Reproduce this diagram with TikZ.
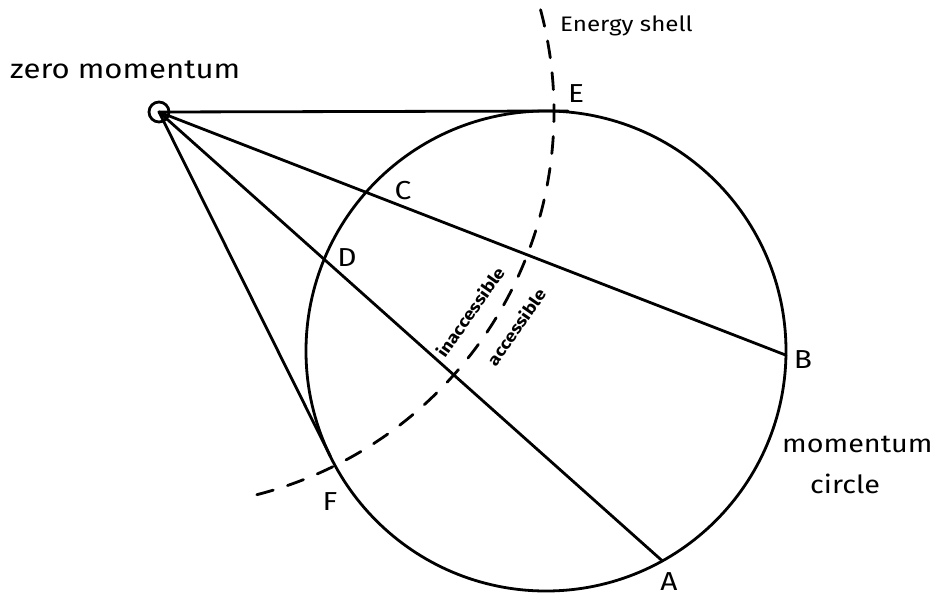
\documentclass[tikz,border=0pt]{standalone}
\usepackage{fontspec}
\setmainfont{Fira Sans}[FakeStretch=1.15]
\usetikzlibrary{calc}
\tikzset{
  stroke/.style={line width=2.8pt, line cap=round, line join=round},
  shell/.style={stroke, dash pattern=on 17pt off 15pt},
  ptlabel/.style={font=\fontsize{26}{30}\selectfont, inner sep=0pt},
  bigtext/.style={font=\fontsize{27}{30}\selectfont, inner sep=0pt, anchor=base west},
  midtext/.style={font=\fontsize{25}{30}\selectfont, inner sep=0pt, anchor=base west},
  smalltext/.style={font=\fontsize{21}{25}\selectfont, inner sep=0pt, anchor=base west},
  sidetext/.style={font=\fontsize{16.5}{20}\selectfont\bfseries, inner sep=0pt, rotate=55},
}
\begin{document}
\begin{tikzpicture}[x=1pt,y=1pt]
\fill[white] (0,0) rectangle (943,-597);
\useasboundingbox (0,0) rectangle (943,-597);
% momentum circle
\node[draw, stroke, circle, minimum size=480pt, inner sep=0pt, outer sep=0pt] (mc) at (546,-351) {};
% zero momentum point
\coordinate (P) at (159,-112);
\node[draw, stroke, circle, minimum size=20pt, inner sep=0pt] (zm) at (P) {};
\coordinate (Eend) at (568,-111);
\coordinate (B) at (mc.-1.4);
\coordinate (A) at (mc.-61.8);
\coordinate (F) at (mc.206.3);
\draw[stroke] (P) -- (Eend);
\draw[stroke] (P) -- (B);
\draw[stroke] (P) -- (A);
\draw[stroke] (P) -- (F);
% energy shell
\draw[shell] ($(P)+(15:395)$) arc[start angle=15, end angle=-77, radius=395];
% labels
\node[bigtext] (zl) at (10,-78) {zero momentum};
\node[smalltext] (esl) at (560,-31) {Energy shell};
\node[midtext] (mcl1) at (782,-452) {momentum};
\node[midtext] (mcl2) at (810,-493) {circle};
\node[ptlabel] (El) at (576,-94) {E};
\node[ptlabel] (Cl) at (403,-191) {C};
\node[ptlabel] (Dl) at (347,-258) {D};
\node[ptlabel] (Bl) at (803,-360) {B};
\node[ptlabel] (Al) at (669,-582) {A};
\node[ptlabel] (Fl) at (330,-502) {F};
\node[sidetext] (inacc) at (470,-312) {inaccessible};
\node[sidetext] (acc) at (516,-327) {accessible};
\end{tikzpicture}
\end{document}
